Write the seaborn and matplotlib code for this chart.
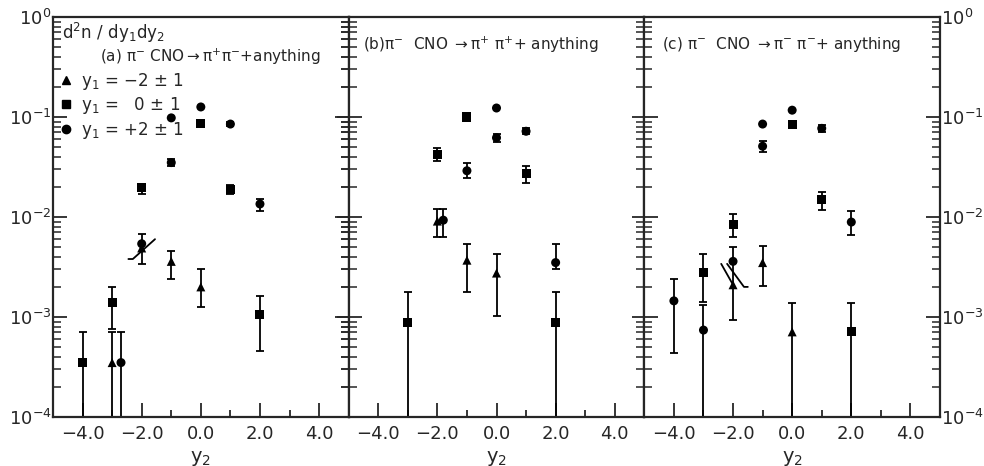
import numpy as np
import pandas as pd
import matplotlib
matplotlib.use("Agg")
import matplotlib.pyplot as plt
import seaborn as sns
from matplotlib.lines import Line2D
from matplotlib.ticker import LogLocator, NullFormatter, FixedLocator, FuncFormatter

# ---- data (y2, d2n/dy1dy2, lower / upper end of error bar)
# sym: tri = y1 -2+-1, sq = y1 0+-1, ci = y1 +2+-1
a_x   = [-4, -3, -2, 0, 1, 2,   -2.7, -2, -1, -1, 0, 1, 2,   -3, -2, -1, 0]
a_y   = [3.5e-4, 1.4e-3, 0.0195, 0.087, 0.019, 1.07e-3,
         3.5e-4, 0.0054, 0.098, 0.035, 0.126, 0.085, 0.0135,
         3.5e-4, 0.0049, 0.0036, 0.0020]
a_lo  = [1e-5, 7.6e-4, 0.017, 0.087, 0.017, 4.6e-4,
         1e-5, 0.0034, 0.098, 0.032, 0.126, 0.081, 0.0115,
         1e-5, 0.0049, 0.0024, 0.00126]
a_hi  = [7.1e-4, 2.0e-3, 0.021, 0.087, 0.021, 1.62e-3,
         7.1e-4, 0.0068, 0.098, 0.038, 0.126, 0.089, 0.0151,
         7.1e-4, 0.0049, 0.0046, 0.0030]
a_sym = ["sq"] * 6 + ["ci"] * 7 + ["tri"] * 4

b_x   = [-3, -2, -1, 1, 2,   -1.8, -1, 0, 0, 1, 2,   -2, -1, 0]
b_y   = [8.9e-4, 0.0417, 0.100, 0.0275, 8.9e-4,
         0.0093, 0.029, 0.123, 0.062, 0.072, 0.0035,
         0.0091, 0.0037, 0.00275]
b_lo  = [1e-5, 0.036, 0.100, 0.022, 1e-5,
         0.0063, 0.0245, 0.123, 0.056, 0.067, 0.0030,
         0.0063, 0.00178, 0.00102]
b_hi  = [1.78e-3, 0.049, 0.100, 0.032, 1.78e-3,
         0.012, 0.035, 0.123, 0.068, 0.077, 0.0054,
         0.012, 0.0054, 0.0043]
b_sym = ["sq"] * 5 + ["ci"] * 6 + ["tri"] * 3

c_x   = [-3, -2, 0, 1, 2,   -4, -3, -2, -1, -1, 0, 1, 2,   -2, -1, 0]
c_y   = [0.0028, 0.0085, 0.085, 0.0148, 7.2e-4,
         1.45e-3, 7.4e-4, 0.0036, 0.085, 0.051, 0.117, 0.077, 0.0089,
         0.0021, 0.0035, 7.1e-4]
c_lo  = [0.0014, 0.0063, 0.081, 0.0118, 1e-5,
         4.4e-4, 1e-5, 0.0036, 0.085, 0.045, 0.117, 0.070, 0.0066,
         9.3e-4, 0.00204, 1e-5]
c_hi  = [0.0043, 0.0107, 0.089, 0.0178, 1.38e-3,
         0.0024, 1.32e-3, 0.0050, 0.085, 0.058, 0.117, 0.083, 0.0115,
         0.0036, 0.0051, 1.38e-3]
c_sym = ["sq"] * 5 + ["ci"] * 8 + ["tri"] * 3

# little "overlap" strokes drawn by hand in the original
a_slash = [([-2.45, -2.3, -1.55], [0.0038, 0.0038, 0.006])]
c_slash = [([-2.4, -1.96], [0.0034, 0.0020]),
           ([-2.2, -1.63, -1.5], [0.0034, 0.0020, 0.0020])]

titles = [r"(a) $\mathregular{\pi^{-}}$ CNO$\rightarrow$$\mathregular{\pi^{+}\pi^{-}}$+anything",
          r"(b)$\mathregular{\pi^{-}}$  CNO $\rightarrow$$\mathregular{\pi^{+}\ \pi^{+}}$+ anything",
          r"(c) $\mathregular{\pi^{-}}$  CNO $\rightarrow$$\mathregular{\pi^{-}\ \pi^{-}}$+ anything"]
title_pos = [(0.16, 0.925), (0.05, 0.955), (0.06, 0.955)]

legend_labels = ["$\\mathregular{y_1}$ = \u22122 \u00b1 1",
                 "$\\mathregular{y_1}$ =   0 \u00b1 1",
                 "$\\mathregular{y_1}$ = +2 \u00b1 1"]
xtick_labels = ["\u22124.0", "\u22122.0", "0.0", "2.0", "4.0"]

sns.set_theme(style="ticks")
plt.rcParams["font.family"] = ["DejaVu Sans"]
plt.rcParams["axes.linewidth"] = 1.6

markers = {"tri": "^", "sq": "s", "ci": "o"}

fig, axes = plt.subplots(1, 3, figsize=(9.84, 4.66), dpi=100, sharey=True)
fig.subplots_adjust(left=53 / 984, right=940 / 984, top=1 - 17 / 466,
                    bottom=1 - 417 / 466, wspace=0)

panels = [(a_x, a_y, a_lo, a_hi, a_sym, a_slash),
          (b_x, b_y, b_lo, b_hi, b_sym, []),
          (c_x, c_y, c_lo, c_hi, c_sym, c_slash)]

decade_fmt = FuncFormatter(lambda v, p: r"$\mathregular{10^{%d}}$" % round(np.log10(v)))

for i, (ax, (x, y, lo, hi, sym, slash)) in enumerate(zip(axes, panels)):
    df = pd.DataFrame({"y2": x, "val": y, "lo": lo, "hi": hi, "sym": sym})
    bars = df[(df["hi"] > df["val"]) | (df["lo"] < df["val"])]
    ax.errorbar(bars["y2"], bars["val"],
                yerr=[bars["val"] - bars["lo"], bars["hi"] - bars["val"]],
                fmt="none", ecolor="black", elinewidth=1.3, capsize=3, capthick=1.3)
    sns.scatterplot(data=df, x="y2", y="val", style="sym", markers=markers,
                    color="black", s=42, edgecolor="black", linewidth=0,
                    legend=False, ax=ax, zorder=3)
    for sx, sy in slash:
        ax.plot(sx, sy, color="black", lw=1.3)

    ax.set_yscale("log")
    ax.set_ylim(1e-4, 1)
    ax.set_xlim(-5, 5)
    ax.xaxis.set_major_locator(FixedLocator([-4, -2, 0, 2, 4]))
    ax.xaxis.set_minor_locator(FixedLocator([-3, -1, 1, 3]))
    ax.set_xticklabels(xtick_labels, fontsize=13)
    ax.tick_params(axis="x", which="major", direction="in", length=10, width=1.3,
                   top=False, pad=6)
    ax.tick_params(axis="x", which="minor", direction="in", length=5, width=1.3,
                   top=False)
    ax.yaxis.set_major_locator(LogLocator(base=10, numticks=10))
    ax.yaxis.set_major_formatter(decade_fmt)
    ax.yaxis.set_minor_locator(LogLocator(base=10, subs=np.arange(2, 10), numticks=10))
    ax.yaxis.set_minor_formatter(NullFormatter())
    if i == 1:
        # shared spines: ticks cross both sides
        ax.tick_params(axis="y", which="major", direction="inout", length=18, width=1.3,
                       left=True, right=True, labelleft=False, labelright=False)
        ax.tick_params(axis="y", which="minor", direction="inout", length=12, width=1.1,
                       left=True, right=True)
    else:
        ax.tick_params(axis="y", which="major", direction="in", length=10, width=1.3,
                       left=True, right=True, labelsize=13, pad=1,
                       labelleft=(i == 0), labelright=(i == 2))
        ax.tick_params(axis="y", which="minor", direction="in", length=6, width=1.1,
                       left=True, right=True)
    ax.set_xlabel(r"$\mathregular{y_2}$", fontsize=14, labelpad=4)
    ax.set_ylabel("")
    ax.text(title_pos[i][0], title_pos[i][1], titles[i], transform=ax.transAxes,
            fontsize=11, va="top", ha="left")

axes[0].text(0.03, 0.99, r"$\mathregular{d^2n\ /\ dy_1dy_2}$", transform=axes[0].transAxes,
             fontsize=12, va="top", ha="left")

handles = [Line2D([], [], ls="none", marker=m, color="black", markersize=6)
           for m in ["^", "s", "o"]]
axes[0].legend(handles, legend_labels,
               loc="upper left", bbox_to_anchor=(0.02, 0.865), frameon=False,
               fontsize=12, handlelength=0.8, handletextpad=0.5, labelspacing=0.2,
               borderpad=0, borderaxespad=0)

fig.savefig("out.png", dpi=100)
